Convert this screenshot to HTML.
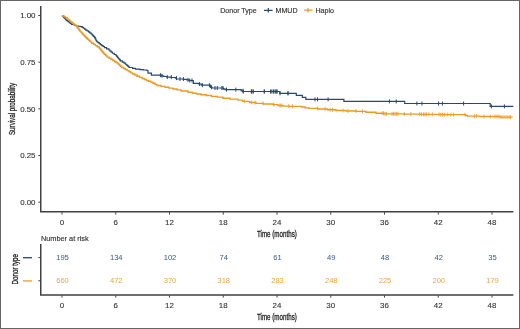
<!DOCTYPE html>
<html><head><meta charset="utf-8"><style>
html,body{margin:0;padding:0;background:#fff;}
body{width:520px;height:329px;overflow:hidden;position:relative;}
.frame{position:absolute;left:0;top:0;width:518px;height:327px;border:1px solid #666;}
svg{position:absolute;left:0;top:0;will-change:transform;}
text{font-family:"Liberation Sans",sans-serif;}
.tk{font-size:7.9px;fill:#333;stroke:#333;stroke-width:0.12px;}
.lg{font-size:7.1px;fill:#333;stroke:#333;stroke-width:0.15px;}
.rk{font-size:7.6px;}
.nar{font-size:9.1px;fill:#222;stroke:#222;stroke-width:0.3px;}
</style></head><body>
<svg width="520" height="329" viewBox="0 0 520 329">
<path d="M40.75 6V211.7H513.4" fill="none" stroke="#404040" stroke-width="1.5"/>
<path d="M38.3 15.50H40" stroke="#404040" stroke-width="1"/>
<path d="M38.3 62.17H40" stroke="#404040" stroke-width="1"/>
<path d="M38.3 108.85H40" stroke="#404040" stroke-width="1"/>
<path d="M38.3 155.52H40" stroke="#404040" stroke-width="1"/>
<path d="M38.3 202.20H40" stroke="#404040" stroke-width="1"/>
<path d="M62.00 212.2V214.6" stroke="#404040" stroke-width="1"/>
<path d="M115.75 212.2V214.6" stroke="#404040" stroke-width="1"/>
<path d="M169.50 212.2V214.6" stroke="#404040" stroke-width="1"/>
<path d="M223.25 212.2V214.6" stroke="#404040" stroke-width="1"/>
<path d="M277.00 212.2V214.6" stroke="#404040" stroke-width="1"/>
<path d="M330.75 212.2V214.6" stroke="#404040" stroke-width="1"/>
<path d="M384.50 212.2V214.6" stroke="#404040" stroke-width="1"/>
<path d="M438.25 212.2V214.6" stroke="#404040" stroke-width="1"/>
<path d="M492.00 212.2V214.6" stroke="#404040" stroke-width="1"/>
<text x="35.5" y="18.30" text-anchor="end" class="tk">1.00</text>
<text x="35.5" y="64.97" text-anchor="end" class="tk">0.75</text>
<text x="35.5" y="111.65" text-anchor="end" class="tk">0.50</text>
<text x="35.5" y="158.32" text-anchor="end" class="tk">0.25</text>
<text x="35.5" y="205.00" text-anchor="end" class="tk">0.00</text>
<text x="62.00" y="224.8" text-anchor="middle" class="tk">0</text>
<text x="115.75" y="224.8" text-anchor="middle" class="tk">6</text>
<text x="169.50" y="224.8" text-anchor="middle" class="tk">12</text>
<text x="223.25" y="224.8" text-anchor="middle" class="tk">18</text>
<text x="277.00" y="224.8" text-anchor="middle" class="tk">24</text>
<text x="330.75" y="224.8" text-anchor="middle" class="tk">30</text>
<text x="384.50" y="224.8" text-anchor="middle" class="tk">36</text>
<text x="438.25" y="224.8" text-anchor="middle" class="tk">42</text>
<text x="492.00" y="224.8" text-anchor="middle" class="tk">48</text>
<text class="nar" transform="translate(276.9,236.7) scale(0.685,1)" text-anchor="middle">Time (months)</text>
<text class="nar" transform="translate(14.5,108.95) rotate(-90) scale(0.685,1)" text-anchor="middle">Survival probability</text>
<path d="M62.50 15.60L62.50 16.18L63.45 16.18L63.45 17.32L64.40 17.32L64.40 18.47L65.50 18.47L65.50 19.62L66.60 19.62L66.60 20.70L67.95 20.70L67.95 21.70L69.30 21.70L69.30 22.60L70.40 22.60L70.40 23.40L71.50 23.40L71.50 24.40L74.20 24.40L74.20 25.40L76.40 25.40L76.40 26.00L78.60 26.00L78.60 26.25L80.00 26.25L80.00 26.60L82.20 26.60L82.20 27.35L83.40 27.35L83.40 28.25L84.60 28.25L84.60 29.15L85.80 29.15L85.80 30.05L87.15 30.05L87.15 30.95L88.50 30.95L88.50 31.88L89.75 31.88L89.75 32.82L91.00 32.82L91.00 33.76L91.90 33.76L91.90 34.69L92.80 34.69L92.80 35.61L93.70 35.61L93.70 36.54L94.60 36.54L94.60 37.72L95.33 37.72L95.33 39.15L96.07 39.15L96.07 40.58L96.80 40.58L96.80 41.77L98.00 41.77L98.00 42.70L99.20 42.70L99.20 43.63L100.40 43.63L100.40 44.58L101.73 44.58L101.73 45.55L103.07 45.55L103.07 46.52L104.40 46.52L104.40 47.62L106.60 47.62L106.60 48.88L108.80 48.88L108.80 50.02L110.00 50.02L110.00 51.05L111.20 51.05L111.20 52.08L112.40 52.08L112.40 53.23L114.25 53.23L114.25 54.48L116.10 54.48L116.10 55.55L116.80 55.55L116.80 56.45L117.50 56.45L117.50 57.35L118.20 57.35L118.20 58.23L118.93 58.23L118.93 59.10L119.67 59.10L119.67 59.97L120.40 59.97L120.40 60.95L122.25 60.95L122.25 62.05L124.10 62.05L124.10 63.15L125.45 63.15L125.45 64.25L126.80 64.25L126.80 65.35L127.90 65.35L127.90 66.45L129.00 66.45L129.00 67.50L132.60 67.50L132.60 68.40L135.50 68.40L135.50 69.05L139.90 69.05L139.90 69.60L143.50 69.60L143.50 70.00L146.10 70.00L146.90 70.00L146.90 70.50L148.00 70.50L148.00 73.20L151.40 73.20L151.40 75.20L161.50 75.20L161.50 75.80L163.80 75.80L163.80 76.50L166.90 76.50L166.90 77.10L171.40 77.10L171.40 77.50L175.40 77.50L175.40 78.10L176.50 78.10L176.50 79.00L183.40 79.00L183.40 79.40L186.90 79.40L186.90 79.90L189.40 79.90L189.40 80.50L193.30 80.50L193.30 83.40L198.40 83.40L198.40 84.00L201.30 84.00L201.30 85.20L210.50 85.20L210.50 87.30L212.00 87.30L212.00 88.00L223.50 88.00L223.50 88.90L225.00 88.90L225.00 89.60L241.20 89.60L241.20 90.90L243.00 90.90L243.00 91.50L279.80 91.50L279.80 93.30L296.30 93.30L296.30 95.30L302.30 95.30L302.30 97.30L305.80 97.30L305.80 99.40L343.90 99.40L343.90 101.40L404.70 101.40L404.70 103.50L490.20 103.50L490.20 106.40L513.40 106.40" fill="none" stroke="#264877" stroke-width="1.2" stroke-linejoin="miter"/>
<path d="M242.90 88.90V92.90M251.50 89.50V93.50M253.30 89.50V93.50M264.20 89.50V93.50M271.20 89.50V93.50M273.50 89.50V93.50M275.80 89.50V93.50M277.00 89.50V93.50M287.90 91.30V95.30M160.40 73.20V77.20M162.00 73.80V77.80M167.30 75.10V79.10M171.30 75.10V79.10M176.50 76.10V80.10M180.00 77.00V81.00M183.40 77.00V81.00M188.00 77.90V81.90M189.80 78.50V82.50M192.00 78.50V82.50M199.60 82.00V86.00M202.40 83.20V87.20M209.40 83.20V87.20M211.50 85.30V89.30M215.00 86.00V90.00M217.30 86.00V90.00M221.90 86.00V90.00M223.00 86.00V90.00M226.50 87.60V91.60M235.80 87.60V91.60M243.30 89.50V93.50M251.30 89.50V93.50M253.00 89.50V93.50M264.40 89.50V93.50M270.60 89.50V93.50M273.10 89.50V93.50M275.00 89.50V93.50M276.90 89.50V93.50M280.00 91.30V95.30M288.10 91.30V95.30M315.00 97.40V101.40M317.50 97.40V101.40M328.10 97.40V101.40M389.40 99.40V103.40M396.25 99.40V103.40M416.90 101.50V105.50M422.00 101.50V105.50M438.50 101.50V105.50M442.40 101.50V105.50M463.60 101.50V105.50M491.40 104.40V108.40M504.40 104.40V108.40" fill="none" stroke="#264877" stroke-width="1"/>
<path d="M62.50 15.60L62.50 15.97L64.00 15.97L64.00 16.73L65.50 16.73L65.50 17.73L67.10 17.73L67.10 18.98L68.70 18.98L68.70 20.10L69.80 20.10L69.80 21.10L70.90 21.10L70.90 22.15L72.30 22.15L72.30 23.25L73.70 23.25L73.70 24.40L75.05 24.40L75.05 25.60L76.40 25.60L76.40 26.63L77.13 26.63L77.13 27.50L77.87 27.50L77.87 28.37L78.60 28.37L78.60 29.30L79.30 29.30L79.30 30.30L80.00 30.30L80.00 31.33L80.97 31.33L80.97 32.40L81.93 32.40L81.93 33.47L82.90 33.47L82.90 34.50L83.87 34.50L83.87 35.50L84.83 35.50L84.83 36.50L85.80 36.50L85.80 37.48L86.80 37.48L86.80 38.45L87.80 38.45L87.80 39.42L88.80 39.42L88.80 40.35L89.77 40.35L89.77 41.25L90.73 41.25L90.73 42.15L91.70 42.15L91.70 43.20L93.50 43.20L93.50 44.40L95.30 44.40L95.30 45.60L97.15 45.60L97.15 46.80L99.00 46.80L99.00 47.80L99.75 47.80L99.75 48.60L100.50 48.60L100.50 49.50L101.28 49.50L101.28 50.50L102.05 50.50L102.05 51.50L102.82 51.50L102.82 52.50L103.60 52.50L103.60 53.45L104.52 53.45L104.52 54.35L105.45 54.35L105.45 55.25L106.38 55.25L106.38 56.15L107.30 56.15L107.30 57.15L109.15 57.15L109.15 58.25L111.00 58.25L111.00 59.35L112.80 59.35L112.80 60.45L114.60 60.45L114.60 61.43L115.80 61.43L115.80 62.30L117.00 62.30L117.00 63.17L118.20 63.17L118.20 64.13L119.33 64.13L119.33 65.20L120.47 65.20L120.47 66.27L121.60 66.27L121.60 67.35L123.45 67.35L123.45 68.45L125.30 68.45L125.30 69.55L127.15 69.55L127.15 70.65L129.00 70.65L129.00 71.75L130.80 71.75L130.80 72.85L132.60 72.85L132.60 73.95L134.80 73.95L134.80 75.05L137.00 75.05L137.00 76.20L139.55 76.20L139.55 77.40L142.10 77.40L142.10 78.50L144.30 78.50L144.30 79.50L146.50 79.50L146.50 80.43L148.67 80.43L148.67 81.30L150.83 81.30L150.83 82.17L153.00 82.17L153.00 83.20L155.00 83.20L155.00 84.40L157.00 84.40L157.00 85.45L161.00 85.45L161.00 86.35L165.00 86.35L165.00 87.22L169.00 87.22L169.00 88.08L173.00 88.08L173.00 88.95L177.05 88.95L177.05 89.85L181.10 89.85L181.10 90.95L188.00 90.95L188.00 92.25L192.50 92.25L192.50 93.28L196.75 93.28L196.75 94.03L201.00 94.03L201.00 94.78L206.25 94.78L206.25 95.53L211.50 95.53L211.50 96.33L217.25 96.33L217.25 97.17L223.00 97.17L223.00 98.20L230.00 98.20L230.00 99.15L238.00 99.15L238.00 100.15L242.70 100.15L242.70 101.35L249.60 101.35L249.60 102.50L256.00 102.50L256.00 103.40L263.50 103.40L263.50 103.95L273.00 103.95L273.00 104.65L278.00 104.65L278.00 105.50L283.00 105.50L283.00 106.10L290.00 106.10L290.00 106.35L301.50 106.35L301.50 106.95L305.00 106.95L305.00 107.85L309.00 107.85L309.00 108.40L318.00 108.40L318.00 109.00L327.50 109.00L327.50 109.75L336.00 109.75L336.00 110.45L346.00 110.45L346.00 110.95L356.00 110.95L356.00 111.40L366.00 111.40L366.00 112.25L376.00 112.25L376.00 113.25L384.00 113.25L384.00 113.85L404.00 113.85L404.00 114.10L420.00 114.10L420.00 114.35L440.00 114.35L440.00 114.65L465.50 114.65L465.50 115.40L467.30 115.40L467.30 116.15L480.00 116.15L480.00 116.55L500.00 116.55L500.00 117.15L512.60 117.15" fill="none" stroke="#ec9a22" stroke-width="1.4" stroke-linejoin="miter"/>
<path d="M244.60 99.35V103.35M251.50 100.50V104.50M255.00 100.50V104.50M263.00 101.40V105.40M273.75 102.65V106.65M280.00 103.50V107.50M281.25 103.50V107.50M288.75 104.10V108.10M292.50 104.35V108.35M317.50 106.40V110.40M325.00 107.00V111.00M330.00 107.75V111.75M332.50 107.75V111.75M343.00 108.45V112.45M348.00 108.95V112.95M356.00 108.95V112.95M362.50 109.40V113.40M382.00 111.25V115.25M383.50 111.25V115.25M385.00 111.85V115.85M386.50 111.85V115.85M392.00 111.85V115.85M393.50 111.85V115.85M395.00 111.85V115.85M396.50 111.85V115.85M398.00 111.85V115.85M404.30 112.10V116.10M410.80 112.10V116.10M419.70 112.10V116.10M421.50 112.35V116.35M423.50 112.35V116.35M425.00 112.35V116.35M426.60 112.35V116.35M429.00 112.35V116.35M432.40 112.35V116.35M439.00 112.35V116.35M440.80 112.65V116.65M442.50 112.65V116.65M444.60 112.65V116.65M447.70 112.65V116.65M450.80 112.65V116.65M453.50 112.65V116.65M465.00 112.65V116.65M474.60 114.15V118.15M476.50 114.15V118.15M484.00 114.55V118.55M490.60 114.55V118.55M495.00 114.55V118.55M497.00 114.55V118.55M499.00 114.55V118.55M501.00 115.15V119.15M503.00 115.15V119.15M505.00 115.15V119.15M507.00 115.15V119.15M509.00 115.15V119.15M510.50 115.15V119.15" fill="none" stroke="#ec9a22" stroke-width="0.8"/>
<text x="220.2" y="13" class="lg">Donor Type</text>
<path d="M264 10.3H272.6M268.3 8.1V12.5" stroke="#264877" stroke-width="1.2"/>
<text x="275.5" y="13" class="lg">MMUD</text>
<path d="M304.1 10.2H312.5M308 8.1V12.5" stroke="#ec9a22" stroke-width="1.2"/>
<text x="315.4" y="13" class="lg">Haplo</text>
<text x="40.9" y="240.6" class="lg" style="font-size:7.35px">Number at risk</text>
<path d="M40.75 244V294.9H513.4" fill="none" stroke="#404040" stroke-width="1.5"/>
<path d="M38.3 257.6H40" stroke="#404040" stroke-width="1"/>
<path d="M38.3 280.8H40" stroke="#404040" stroke-width="1"/>
<path d="M23 257.7H32" stroke="#34527a" stroke-width="1.4"/>
<path d="M23 280.9H32" stroke="#e4ad3c" stroke-width="1.4"/>
<path d="M62.00 295.4V297.6" stroke="#404040" stroke-width="1"/>
<path d="M115.75 295.4V297.6" stroke="#404040" stroke-width="1"/>
<path d="M169.50 295.4V297.6" stroke="#404040" stroke-width="1"/>
<path d="M223.25 295.4V297.6" stroke="#404040" stroke-width="1"/>
<path d="M277.00 295.4V297.6" stroke="#404040" stroke-width="1"/>
<path d="M330.75 295.4V297.6" stroke="#404040" stroke-width="1"/>
<path d="M384.50 295.4V297.6" stroke="#404040" stroke-width="1"/>
<path d="M438.25 295.4V297.6" stroke="#404040" stroke-width="1"/>
<path d="M492.00 295.4V297.6" stroke="#404040" stroke-width="1"/>
<text x="62.00" y="307.7" text-anchor="middle" class="tk">0</text>
<text x="115.75" y="307.7" text-anchor="middle" class="tk">6</text>
<text x="169.50" y="307.7" text-anchor="middle" class="tk">12</text>
<text x="223.25" y="307.7" text-anchor="middle" class="tk">18</text>
<text x="277.00" y="307.7" text-anchor="middle" class="tk">24</text>
<text x="330.75" y="307.7" text-anchor="middle" class="tk">30</text>
<text x="384.50" y="307.7" text-anchor="middle" class="tk">36</text>
<text x="438.25" y="307.7" text-anchor="middle" class="tk">42</text>
<text x="492.00" y="307.7" text-anchor="middle" class="tk">48</text>
<text x="62.50" y="260.2" text-anchor="middle" class="rk" fill="#33588a">195</text>
<text x="116.25" y="260.2" text-anchor="middle" class="rk" fill="#33588a">134</text>
<text x="170.00" y="260.2" text-anchor="middle" class="rk" fill="#33588a">102</text>
<text x="223.75" y="260.2" text-anchor="middle" class="rk" fill="#33588a">74</text>
<text x="277.50" y="260.2" text-anchor="middle" class="rk" fill="#33588a">61</text>
<text x="331.25" y="260.2" text-anchor="middle" class="rk" fill="#33588a">49</text>
<text x="385.00" y="260.2" text-anchor="middle" class="rk" fill="#33588a">48</text>
<text x="438.75" y="260.2" text-anchor="middle" class="rk" fill="#33588a">42</text>
<text x="492.50" y="260.2" text-anchor="middle" class="rk" fill="#33588a">35</text>
<text x="62.50" y="283.2" text-anchor="middle" class="rk" fill="#eea53a">660</text>
<text x="116.25" y="283.2" text-anchor="middle" class="rk" fill="#eea53a">472</text>
<text x="170.00" y="283.2" text-anchor="middle" class="rk" fill="#eea53a">370</text>
<text x="223.75" y="283.2" text-anchor="middle" class="rk" fill="#eea53a">318</text>
<text x="277.50" y="283.2" text-anchor="middle" class="rk" fill="#eea53a">283</text>
<text x="331.25" y="283.2" text-anchor="middle" class="rk" fill="#eea53a">248</text>
<text x="385.00" y="283.2" text-anchor="middle" class="rk" fill="#eea53a">225</text>
<text x="438.75" y="283.2" text-anchor="middle" class="rk" fill="#eea53a">200</text>
<text x="492.50" y="283.2" text-anchor="middle" class="rk" fill="#eea53a">179</text>
<text class="nar" transform="translate(276.9,319.9) scale(0.685,1)" text-anchor="middle">Time (months)</text>
<text class="nar" transform="translate(17.6,269.2) rotate(-90) scale(0.685,1)" text-anchor="middle">Donor type</text>
</svg>
<div class="frame"></div>
</body></html>
